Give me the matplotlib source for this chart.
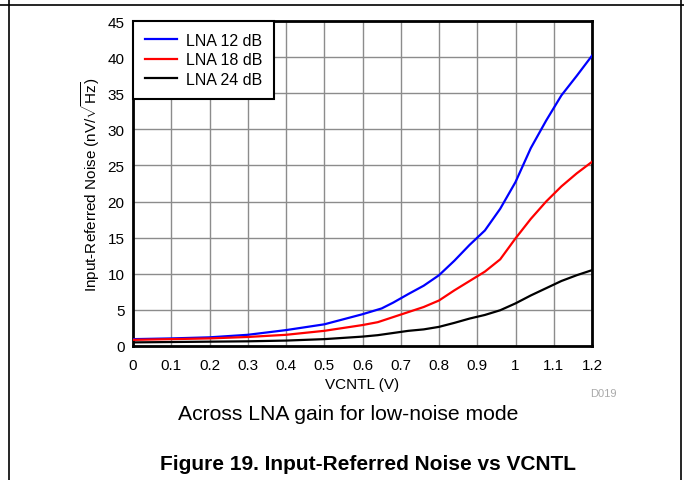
import matplotlib
matplotlib.use("Agg")
import matplotlib.pyplot as plt
from matplotlib.lines import Line2D

plt.rcParams['font.family'] = ['Liberation Sans', 'DejaVu Sans']
plt.rcParams['mathtext.fontset'] = 'custom'
plt.rcParams['mathtext.rm'] = 'Liberation Sans'
plt.rcParams['mathtext.it'] = 'Liberation Sans:italic'

# Data
vcntl_12 = [0.0, 0.1, 0.2, 0.3, 0.4, 0.5, 0.6, 0.65, 0.68, 0.72, 0.76, 0.8, 0.84, 0.88, 0.92,
            0.96, 1.0, 1.04, 1.08, 1.12, 1.16, 1.2]
noise_12 = [0.95, 1.05, 1.2, 1.55, 2.2, 3.0, 4.4, 5.2, 6.0, 7.2, 8.35, 9.8, 11.8, 14.0, 16.0,
            19.0, 22.7, 27.4, 31.2, 34.7, 37.4, 40.2]
vcntl_18 = [0.0, 0.1, 0.2, 0.3, 0.4, 0.5, 0.6, 0.64, 0.68, 0.72, 0.76, 0.8, 0.84, 0.88, 0.92,
            0.96, 1.0, 1.04, 1.08, 1.12, 1.16, 1.2]
noise_18 = [0.85, 0.95, 1.05, 1.25, 1.55, 2.1, 2.9, 3.3, 4.0, 4.7, 5.4, 6.3, 7.7, 9.0, 10.3,
            12.0, 14.9, 17.6, 20.0, 22.1, 23.9, 25.5]
vcntl_24 = [0.0, 0.1, 0.2, 0.3, 0.4, 0.5, 0.6, 0.64, 0.68, 0.72, 0.76, 0.8, 0.84, 0.88, 0.92,
            0.96, 1.0, 1.04, 1.08, 1.12, 1.16, 1.2]
noise_24 = [0.5, 0.55, 0.6, 0.65, 0.75, 0.95, 1.3, 1.5, 1.8, 2.1, 2.3, 2.65, 3.2, 3.8, 4.3,
            4.95, 5.9, 7.0, 8.0, 9.0, 9.8, 10.5]

labels = ['LNA 12 dB', 'LNA 18 dB', 'LNA 24 dB']
colors = ['#0000ff', '#ff0000', '#000000']
x_ticks = [0, 0.1, 0.2, 0.3, 0.4, 0.5, 0.6, 0.7, 0.8, 0.9, 1, 1.1, 1.2]
x_tick_labels = ['0', '0.1', '0.2', '0.3', '0.4', '0.5', '0.6', '0.7', '0.8', '0.9', '1', '1.1', '1.2']
y_ticks = list(range(0, 46, 5))

W, H = 684, 481
fig = plt.figure(figsize=(W / 100, H / 100), dpi=100)
ax = fig.add_axes([133 / W, 1 - 347 / H, (592 - 133) / W, (347 - 22) / H])

for xs, ys, lab, c in zip([vcntl_12, vcntl_18, vcntl_24], [noise_12, noise_18, noise_24], labels, colors):
    ax.plot(xs, ys, color=c, lw=1.6, label=lab, zorder=3)

ax.set_xlim(0, 1.2)
ax.set_ylim(0, 45)
ax.set_xticks(x_ticks)
ax.set_xticklabels(x_tick_labels)
ax.set_yticks(y_ticks)
ax.grid(True, color='#8c8c8c', lw=1.0)
ax.set_axisbelow(True)
ax.tick_params(length=0, labelsize=11, pad=6)
ax.tick_params(axis='x', pad=9)
for s in ax.spines.values():
    s.set_linewidth(2.0)
    s.set_color('black')

ax.set_xlabel('VCNTL (V)', fontsize=11, labelpad=3)
ax.set_ylabel(r'Input-Referred Noise (nV/$\sqrt{\mathrm{Hz}}$)', fontsize=11, labelpad=4)

leg = ax.legend(loc='upper left', fontsize=11.5, frameon=True, fancybox=False,
                borderaxespad=0, handlelength=2.0, handletextpad=0.55,
                labelspacing=0.28, borderpad=0.75)
leg.get_frame().set_edgecolor('black')
leg.get_frame().set_linewidth(1.5)
leg.get_frame().set_alpha(1)

fig.text(603 / W, 1 - 394 / H, 'D019', fontsize=8, color='#aaaaaa', ha='center', va='center')
fig.text(348 / W, 1 - 414 / H, 'Across LNA gain for low-noise mode', fontsize=15.2,
         ha='center', va='center')
fig.text(368 / W, 1 - 465 / H, 'Figure 19. Input-Referred Noise vs VCNTL', fontsize=15,
         fontweight='bold', ha='center', va='center')

# page/table borders
fig.add_artist(Line2D([9 / W, 9 / W], [0, 1], transform=fig.transFigure, color='black', lw=1.2))
fig.add_artist(Line2D([681 / W, 681 / W], [0, 1], transform=fig.transFigure, color='black', lw=1.2))
fig.add_artist(Line2D([0, 1], [1 - 6 / H, 1 - 6 / H], transform=fig.transFigure, color='black', lw=1.2))

fig.savefig('out.png', dpi=100)
